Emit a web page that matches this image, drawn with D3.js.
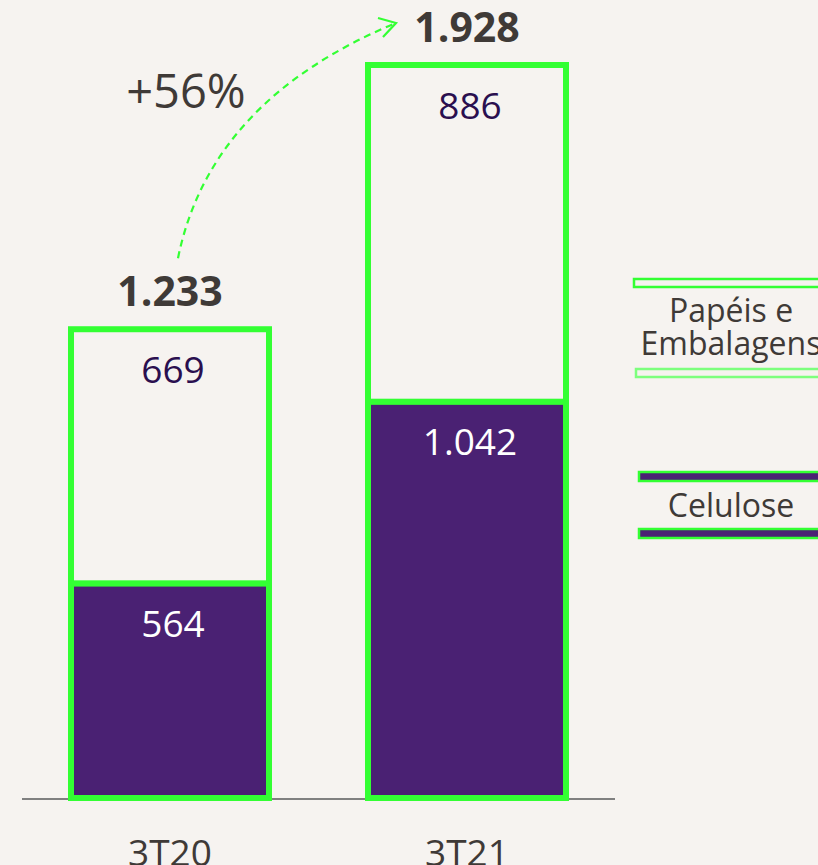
<!DOCTYPE html>
<head>
  <meta charset="utf-8">
  <script src="https://d3js.org/d3.v7.min.js"></script>
<style>
body { margin:0; background:#f6f3f0; overflow:hidden; }
text { font-family: "Open Sans", sans-serif; }
</style>
</head>

<body>
<script>
// data
var periods = ['3T20', '3T21'];
var celulose = [564, 1042];
var papeis = [669, 886];
var totalLabels = ['1.233', '1.928'];
var celLabels = ['564', '1.042'];
var papLabels = ['669', '886'];
var growthLabel = '+56%';
var legendNames = ['Papéis e', 'Embalagens', 'Celulose'];

var W = 818, H = 865;
var green = '#33ff33', purple = '#4a2173', ink = '#3f3a37';

var svg = d3.select('body').append('svg')
    .attr('width', W)
    .attr('height', H);

// scales
var x = d3.scaleBand().domain(periods).range([71, 566]).paddingInner(1/3);
var y = d3.scaleLinear().domain([0, 1928]).range([798, 65]);

var rows = periods.map((p, i) => ({p: p, c: celulose[i], pe: papeis[i], i: i}));

// baseline
svg.append('line')
    .attr('x1', 22).attr('x2', 615)
    .attr('y1', y(0) + 1).attr('y2', y(0) + 1)
    .attr('stroke', '#808080').attr('stroke-width', 2);

// papeis segment (top)
svg.selectAll('.pap').data(rows).enter().append('rect')
    .attr('class', 'pap')
    .attr('x', d => x(d.p))
    .attr('width', x.bandwidth())
    .attr('y', d => y(d.c + d.pe))
    .attr('height', d => y(d.c) - y(d.c + d.pe))
    .attr('fill', '#f6f3f0')
    .attr('stroke', green).attr('stroke-width', 6);

// celulose segment (bottom)
svg.selectAll('.cel').data(rows).enter().append('rect')
    .attr('class', 'cel')
    .attr('x', d => x(d.p))
    .attr('width', x.bandwidth())
    .attr('y', d => y(d.c))
    .attr('height', d => y(0) - y(d.c))
    .attr('fill', purple)
    .attr('stroke', green).attr('stroke-width', 6);

// value labels
svg.selectAll('.lcel').data(rows).enter().append('text')
    .attr('x', d => x(d.p) + x.bandwidth() / 2 + 3)
    .attr('y', d => y(d.c) + 53)
    .attr('text-anchor', 'middle')
    .attr('font-size', 37).attr('fill', '#fff')
    .text(d => celLabels[d.i]);

svg.selectAll('.lpap').data(rows).enter().append('text')
    .attr('x', d => x(d.p) + x.bandwidth() / 2 + 3)
    .attr('y', d => y(d.c + d.pe) + 54)
    .attr('text-anchor', 'middle')
    .attr('font-size', 37).attr('fill', '#2a0f4f')
    .text(d => papLabels[d.i]);

svg.selectAll('.ltot').data(rows).enter().append('text')
    .attr('x', d => x(d.p) + x.bandwidth() / 2)
    .attr('y', d => y(d.c + d.pe) - 23)
    .attr('text-anchor', 'middle')
    .attr('font-size', 41).attr('font-weight', 700).attr('fill', ink)
    .text(d => totalLabels[d.i]);

// category labels
svg.selectAll('.cat').data(periods).enter().append('text')
    .attr('x', d => x(d) + x.bandwidth() / 2)
    .attr('y', 866)
    .attr('text-anchor', 'middle')
    .attr('font-size', 37).attr('fill', ink)
    .text(d => d);

// growth arrow
var cx0 = x(periods[0]) + x.bandwidth() / 2;
var sx = cx0 + 8, sy = y(celulose[0] + papeis[0]) - 71;
var ex = x(periods[1]) + 28, ey = 23;
svg.append('path')
    .attr('d', 'M' + sx + ',' + sy + ' Q' + (sx + 32) + ',100 ' + ex + ',' + ey)
    .attr('fill', 'none')
    .attr('stroke', green).attr('stroke-width', 2.2)
    .attr('stroke-dasharray', '7,5');
svg.append('path')
    .attr('d', 'M' + (ex - 18) + ',' + (ey - 5) + ' L' + ex + ',' + ey + ' L' + (ex - 13) + ',' + (ey + 14))
    .attr('fill', 'none')
    .attr('stroke', green).attr('stroke-width', 2.2);

svg.append('text')
    .attr('x', 186).attr('y', 108)
    .attr('text-anchor', 'middle')
    .attr('font-size', 47).attr('fill', ink)
    .text(growthLabel);

// legend
var lx = 634;
svg.append('rect').attr('x', lx).attr('y', 279).attr('width', 200).attr('height', 8)
    .attr('fill', '#f6f3f0').attr('stroke', green).attr('stroke-width', 2.5);
svg.append('rect').attr('x', lx + 2).attr('y', 369).attr('width', 200).attr('height', 8)
    .attr('fill', '#f6f3f0').attr('stroke', '#7dff7d').attr('stroke-width', 2.5);
svg.append('rect').attr('x', lx + 5).attr('y', 472).attr('width', 200).attr('height', 9)
    .attr('fill', purple).attr('stroke', green).attr('stroke-width', 2.5);
svg.append('rect').attr('x', lx + 5).attr('y', 529).attr('width', 200).attr('height', 9)
    .attr('fill', purple).attr('stroke', green).attr('stroke-width', 2.5);

var legY = [322, 355, 517];
svg.selectAll('.leg').data(legendNames).enter().append('text')
    .attr('x', 731)
    .attr('y', (d, i) => legY[i])
    .attr('text-anchor', 'middle')
    .attr('font-size', 32).attr('fill', ink)
    .text(d => d);
</script>
</body>
